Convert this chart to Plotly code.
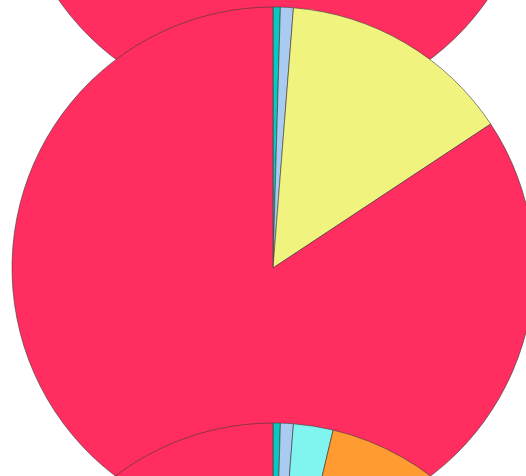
import plotly.graph_objects as go

# Category labels and values, listed clockwise from 12 o'clock
labels_top = ["Segment D", "Segment C", "Segment B", "Segment A"]
values_top = [0.9, 2.1, 15.0, 82.0]

labels_mid = ["Segment D", "Segment C", "Segment B", "Segment A"]
values_mid = [0.45, 0.8, 14.45, 84.3]

labels_bot = ["Segment D", "Segment C", "Segment E", "Segment F", "Segment B", "Segment A"]
values_bot = [0.45, 0.8, 2.45, 18.0, 21.0, 57.3]

color_map = {
    "Segment A": "#FF2D60",
    "Segment B": "#F0F37E",
    "Segment C": "#AACBF1",
    "Segment D": "#08C9C0",
    "Segment E": "#80F5EF",
    "Segment F": "#FF9B30",
}

W, H = 546, 1355
R2 = 522  # pie diameter in px
xdom = [12 / W, (12 + R2) / W]


def ydom(top_px):
    return [1 - (top_px + R2) / H, 1 - top_px / H]


fig = go.Figure()
for labels, values, top in [
    (labels_top, values_top, 0),
    (labels_mid, values_mid, 417),
    (labels_bot, values_bot, 833),
]:
    fig.add_trace(
        go.Pie(
            labels=labels,
            values=values,
            sort=False,
            direction="clockwise",
            rotation=0,
            textinfo="none",
            hoverinfo="label+percent",
            marker=dict(
                colors=[color_map[l] for l in labels],
                line=dict(color="rgba(60,60,60,0.6)", width=1),
            ),
            domain=dict(x=xdom, y=ydom(top)),
        )
    )

fig.update_layout(
    width=W,
    height=H,
    margin=dict(l=0, r=0, t=0, b=0),
    showlegend=False,
    paper_bgcolor="white",
    plot_bgcolor="white",
)

post = """
document.documentElement.style.overflow='hidden';
document.body.style.overflow='hidden';
document.body.style.margin='0';
document.body.style.marginTop='-410px';
"""

fig.write_html("out.html", post_script=post)
